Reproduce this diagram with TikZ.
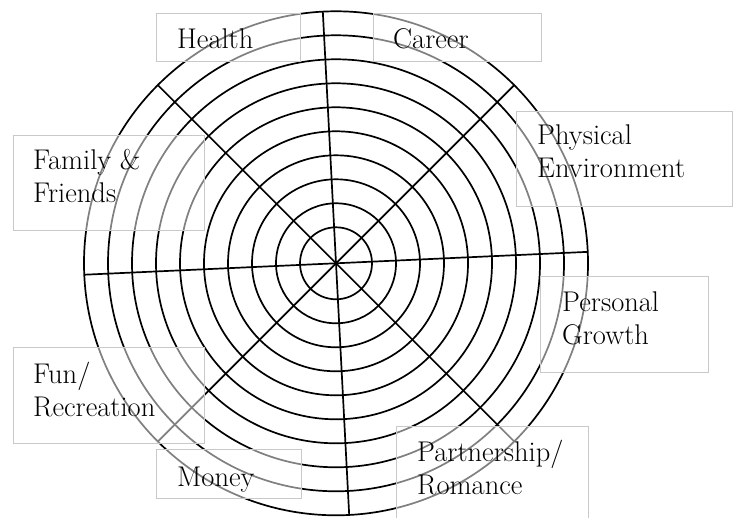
\documentclass[tikz,border=0pt]{standalone}
\usepackage{tikz}
\definecolor{boxline}{gray}{0.79}
\tikzset{
  ring/.style={line width=1.7pt},
  spoke/.style={line width=1.7pt},
  areabox/.style={draw=boxline,line width=1.4pt,fill=white,fill opacity=0.5,inner sep=0pt,anchor=north west},
  area/.style={font=\fontsize{28.5}{33}\selectfont,align=left,anchor=base west,inner sep=0pt},
}

\begin{document}
\begin{tikzpicture}[x=1pt,y=1pt]
  \useasboundingbox (0,0) rectangle (735,518);
  \coordinate (c) at (336,254.7);
  % rings
  \draw[ring] (c) circle (36);
  \draw[ring] (c) circle (60);
  \draw[ring] (c) circle (84);
  \draw[ring] (c) circle (108);
  \draw[ring] (c) circle (132);
  \draw[ring] (c) circle (156);
  \draw[ring] (c) circle (180);
  \draw[ring] (c) circle (204);
  \draw[ring] (c) circle (228);
  \draw[ring] (c) circle (252);
  % spokes
  \draw[spoke] ([shift={(2.6:252)}]c) -- ([shift={(182.6:252)}]c);
  \draw[spoke] ([shift={(93:252)}]c) -- ([shift={(273:252)}]c);
  \draw[spoke] ([shift={(45:252)}]c) -- ([shift={(225:252)}]c);
  \draw[spoke] ([shift={(135:252)}]c) -- ([shift={(315:252)}]c);
  % boxes
  \node[areabox,minimum width=144pt,minimum height=48pt] (healthbox) at (156,505) {};
  \node[areabox,minimum width=168pt,minimum height=48pt] (careerbox) at (373,505) {};
  \node[areabox,minimum width=191pt,minimum height=95pt] (familybox) at (13,383) {};
  \node[areabox,minimum width=216pt,minimum height=95pt] (physicalbox) at (516,407) {};
  \node[areabox,minimum width=168pt,minimum height=96pt] (personalbox) at (540,242) {};
  \node[areabox,minimum width=191pt,minimum height=96pt] (funbox) at (13,171) {};
  \node[areabox,minimum width=145pt,minimum height=49pt] (moneybox) at (156,69) {};
  \node[areabox,minimum width=192pt,minimum height=104pt] (partnerbox) at (396,92) {};
  % labels (base = last line)
  \node[area] (health) at (177,469) {Health};
  \node[area] (career) at (393,469) {Career};
  \node[area] (family) at (33,315) {Family \&\\Friends};
  \node[area] (physical) at (537,340) {Physical\\Environment};
  \node[area] (personal) at (562,173) {Personal\\Growth};
  \node[area] (fun) at (33,101) {Fun/\\Recreation};
  \node[area] (money) at (177,31) {Money};
  \node[area] (partner) at (417,23) {Partnership/\\Romance};
\end{tikzpicture}
\end{document}
